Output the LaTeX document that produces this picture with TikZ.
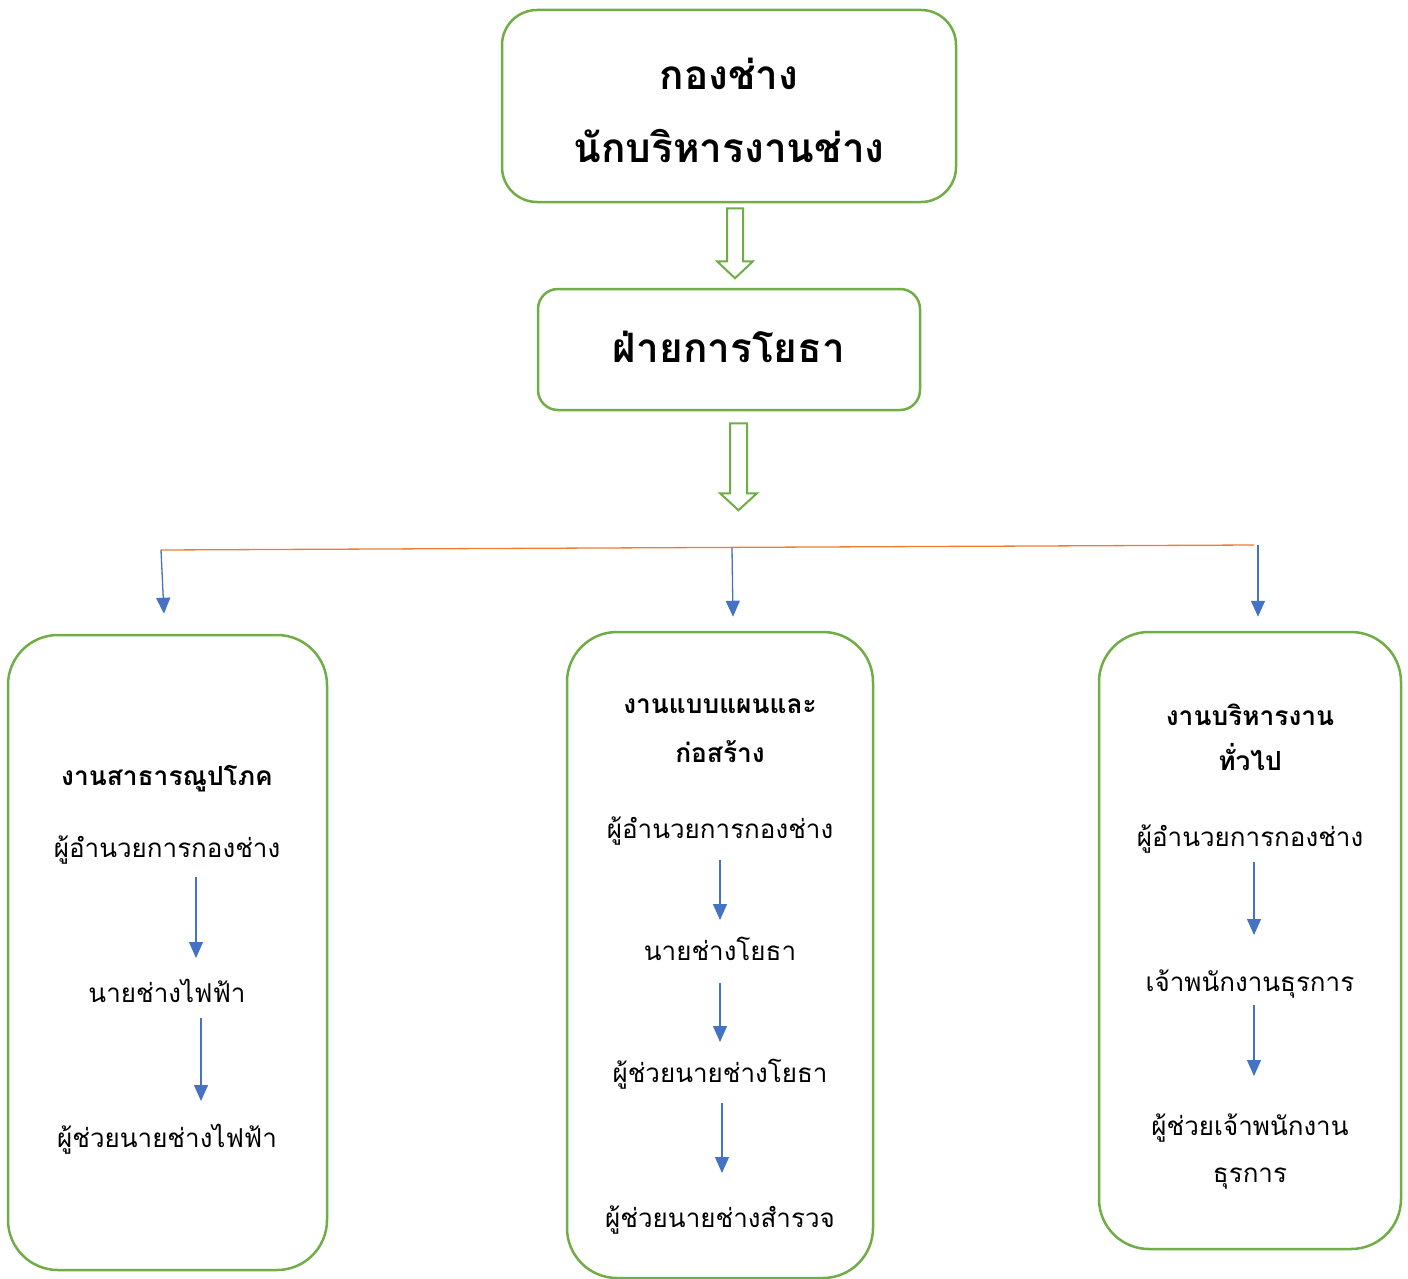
\documentclass[tikz,border=0pt]{standalone}
\usepackage{fontspec}
\setmainfont[Script=Thai]{Loma}
\usetikzlibrary{arrows.meta,calc}
\definecolor{boxgreen}{HTML}{70AD47}
\definecolor{arrblue}{HTML}{4472C4}
\definecolor{lineorange}{HTML}{ED7D31}
\tikzset{
  box/.style={draw=boxgreen,line width=2.5pt,rounded corners=#1,inner sep=0pt},
  big/.style={font=\fontsize{40.5}{48}\selectfont\bfseries,anchor=base,inner sep=0pt},
  head/.style={font=\fontsize{26.3}{30}\selectfont\bfseries,anchor=base,inner sep=0pt},
  txt/.style={font=\fontsize{26}{30}\selectfont,anchor=base,inner sep=0pt},
  barrow/.style={-{Triangle[width=14pt,length=16pt]},draw=arrblue,fill=arrblue,line width=1.3pt},
  blockarr/.style={draw=boxgreen,line width=2pt,fill=white},
}
\begin{document}
\begin{tikzpicture}[x=1pt,y=-1pt]
\useasboundingbox (0,0) rectangle (1408,1279);
% main boxes
\node[box=35pt,minimum width=454pt,minimum height=192pt] (top) at (729,106) {};
\node[box=20pt,minimum width=382pt,minimum height=121pt] (mid) at (729,349.5) {};
\node[box=50pt,minimum width=319pt,minimum height=635pt] (L) at (167.5,952.5) {};
\node[box=50pt,minimum width=306pt,minimum height=646pt] (M) at (720,955) {};
\node[box=50pt,minimum width=302pt,minimum height=617pt] (R) at (1250,940.5) {};
% titles
\node[big] (t1) at (729,90) {กองช่าง};
\node[big] (t2) at (729,162) {นักบริหารงานช่าง};
\node[big] (t3) at (729,362) {ฝ่ายการโยธา};
% block arrows
\draw[blockarr] ($(top.south)+(-2,5)$) -- ++(16,0) -- ++(0,53) -- ++(10,0) -- ++(-18,17) -- ++(-18,-17) -- ++(10,0) -- cycle;
\draw[blockarr] ($(mid.south)+(1,12)$) -- ++(17,0) -- ++(0,70) -- ++(10,0) -- ++(-18.5,17) -- ++(-18.5,-17) -- ++(10,0) -- cycle;
% orange distribution line
\coordinate (oL) at (161,550);
\coordinate (oM) at (732,548);
\coordinate (oR) at (1254,545);
\coordinate (oR2) at (1258,545);
\draw[lineorange,line width=1.3pt] (oL) -- (oR);
\draw[barrow] (oL) -- ($(L.north)+(-3.5,-20)$);
\draw[barrow] (oM) -- ($(M.north)+(13,-14)$);
\draw[barrow] (oR2) -- ($(R.north)+(8,-14)$);
% left column
\node[head] (l0) at (167,785) {งานสาธารณูปโภค};
\node[txt] (l1) at (167,857) {ผู้อำนวยการกองช่าง};
\node[txt] (l2) at (167,1002) {นายช่างไฟฟ้า};
\node[txt] (l3) at (167,1147) {ผู้ช่วยนายช่างไฟฟ้า};
\draw[barrow] ($(l1.base)+(29,20)$) -- ($(l2.base)+(29,-44)$);
\draw[barrow] ($(l2.base)+(34,16)$) -- ($(l3.base)+(34,-46)$);
% middle column
\node[head] (m0) at (720,713) {งานแบบแผนและ};
\node[head] (m0b) at (720,762) {ก่อสร้าง};
\node[txt] (m1) at (720,838) {ผู้อำนวยการกองช่าง};
\node[txt] (m2) at (720,960) {นายช่างโยธา};
\node[txt] (m3) at (720,1082) {ผู้ช่วยนายช่างโยธา};
\node[txt] (m4) at (720,1227) {ผู้ช่วยนายช่างสำรวจ};
\draw[barrow] ($(m1.base)+(0,22)$) -- ($(m2.base)+(0,-40)$);
\draw[barrow] ($(m2.base)+(0,23)$) -- ($(m3.base)+(0,-40)$);
\draw[barrow] ($(m3.base)+(2,21)$) -- ($(m4.base)+(2,-54)$);
% right column
\node[head] (r0) at (1250,725) {งานบริหารงาน};
\node[head] (r0b) at (1250,770) {ทั่วไป};
\node[txt] (r1) at (1250,846) {ผู้อำนวยการกองช่าง};
\node[txt] (r2) at (1250,991) {เจ้าพนักงานธุรการ};
\node[txt] (r3) at (1250,1135) {ผู้ช่วยเจ้าพนักงาน};
\node[txt] (r3b) at (1250,1182) {ธุรการ};
\draw[barrow] ($(r1.base)+(4,16)$) -- ($(r2.base)+(4,-56)$);
\draw[barrow] ($(r2.base)+(4,14)$) -- ($(r3.base)+(4,-59)$);
\end{tikzpicture}
\end{document}
